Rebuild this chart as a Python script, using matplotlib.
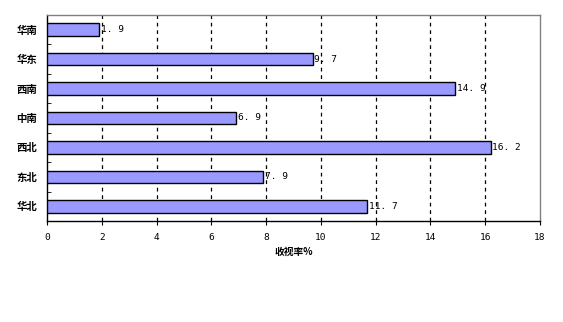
import matplotlib
matplotlib.use("Agg")
import matplotlib.pyplot as plt
import numpy as np

plt.rcParams['font.family'] = ['Noto Sans CJK SC', 'DejaVu Sans']

categories = ['华北', '东北', '西北', '中南', '西南', '华东', '华南']
values = [11.7, 7.9, 16.2, 6.9, 14.9, 9.7, 1.9]
xticks = [0, 2, 4, 6, 8, 10, 12, 14, 16, 18]
xlabel = '收视率%'

fig = plt.figure(figsize=(5.63, 3.22), dpi=100)
ax = fig.add_axes([47/563, 1-221/322, (540-47)/563, (221-15)/322])

y = np.arange(len(categories))
ax.barh(y, values, height=0.43, color='#9999FF', edgecolor='black', linewidth=1.0, zorder=3)
for yi, v in zip(y, values):
    ax.text(v + 0.06, yi, f'{v:.1f}'.replace('.', '. '), va='center', ha='left',
            fontsize=6.8, family=['DejaVu Sans Mono'], zorder=4)

ax.set_xlim(0, 18)
ax.set_ylim(-0.5, len(categories) - 0.5)
ax.set_xticks(xticks)
ax.set_xticklabels([str(t) for t in xticks], fontsize=6.8, family=['DejaVu Sans Mono'])
ax.set_yticks(y)
ax.set_yticklabels(categories, fontsize=7.5, fontweight='bold')
ax.set_yticks(np.arange(-0.5, len(categories), 1), minor=True)
ax.tick_params(axis='y', which='major', length=0, pad=7)
ax.tick_params(axis='y', which='minor', length=3, direction='in', color='black')
ax.tick_params(axis='x', length=3, direction='out', pad=6)
for t in [2, 4, 6, 8, 10, 12, 14, 16]:
    ax.axvline(t, color='black', linestyle=(0, (3, 3)), linewidth=0.9, zorder=1)
ax.set_xlabel(xlabel, fontsize=7, fontweight='bold', labelpad=3)

ax.spines['left'].set_color('black')
ax.spines['bottom'].set_color('black')
ax.spines['top'].set_color('#808080')
ax.spines['right'].set_color('#808080')
for s in ax.spines.values():
    s.set_linewidth(1.0)

fig.savefig('out.png', dpi=100)
